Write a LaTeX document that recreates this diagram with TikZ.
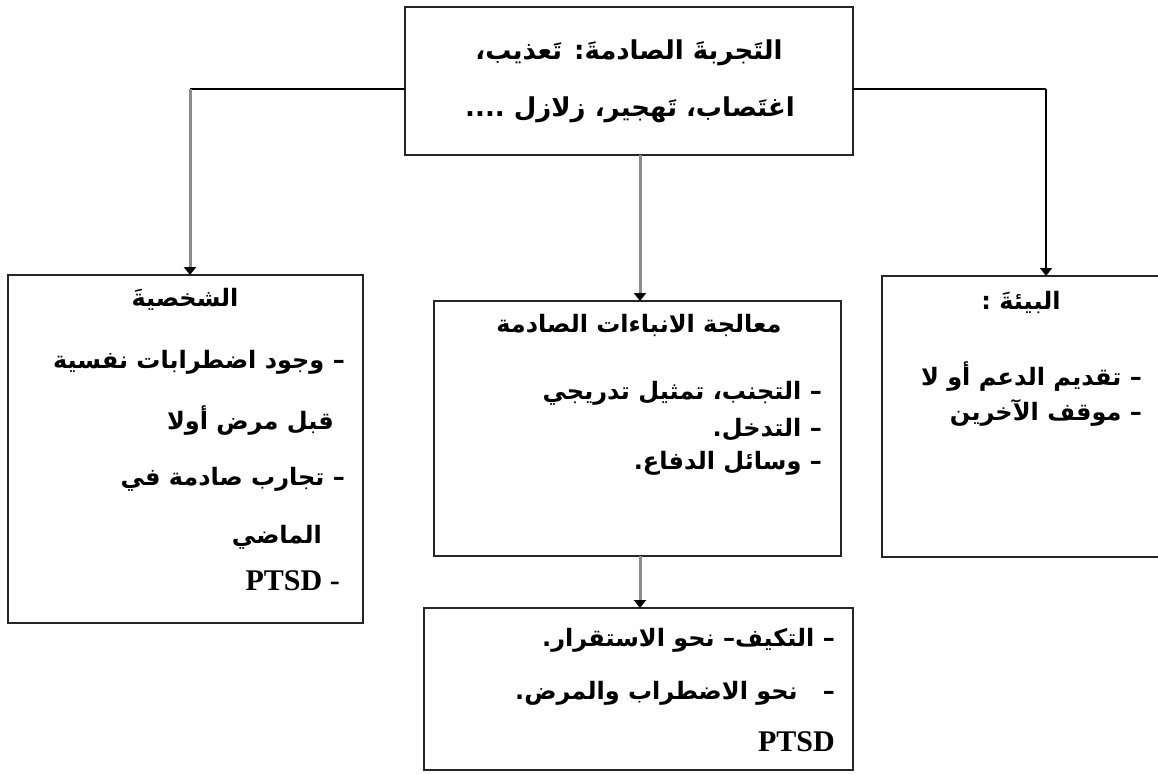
\documentclass[tikz,border=0pt]{standalone}
\usepackage{fontspec}
\setmainfont{Liberation Serif}
\newfontfamily\arabicfont[Script=Arabic]{DejaVu Sans}
\TeXXeTstate=1
\usetikzlibrary{arrows.meta,positioning}
\newcommand{\artxt}[1]{{\arabicfont\bfseries\beginR #1\endR}}

\begin{document}
\begin{tikzpicture}[x=1pt, y=-1pt, font=\fontsize{24}{28}\selectfont,
  box/.style={draw=black!85, line width=1.6pt, anchor=north west, inner sep=0pt, outer sep=0pt},
  wire/.style={line width=1.2pt},
  gline/.style={draw=black!45, line width=3pt, -{Triangle[length=8pt,width=12pt,color=black]}},
  bline/.style={line width=1.6pt, -{Triangle[length=8pt,width=12pt]}},
  txt/.style={inner sep=0pt, anchor=east},
  ttl/.style={inner sep=0pt},
  big/.style={font=\fontsize{26}{30}\selectfont},
  lat/.style={txt, font=\fontsize{30}{32}\selectfont\bfseries}]
\useasboundingbox (0,0) rectangle (1158,773);
% boxes
\node[box, minimum width=448pt, minimum height=148pt] (trauma) at (405,7) {};
\node[box, minimum width=355pt, minimum height=348pt] (persona) at (8,275) {};
\node[box, minimum width=407pt, minimum height=255pt] (process) at (434,301) {};
\node[box, minimum width=280pt, minimum height=281pt] (environ) at (882,276) {};
\node[box, minimum width=429pt, minimum height=162pt] (outcome) at (424,608) {};
% top box
\node[ttl, big] (tr1) at (629,53) {\artxt{التَجربةَ الصادمةَ: تَعذيب،}};
\node[ttl, big] (tr2) at (630,110) {\artxt{اغتَصاب، تَهجير، زلازل ....}};
% left box
\node[ttl] (pe0) at (185,299) {\artxt{الشخصيةَ}};
\node[txt] (pe1) at (345,362) {\artxt{– وجود اضطرابات نفسية}};
\node[txt] (pe2) at (334,421) {\artxt{قبل مرض أولا}};
\node[txt] (pe3) at (345,479) {\artxt{– تجارب صادمة في}};
\node[txt] (pe4) at (322,537) {\artxt{الماضي}};
\node[lat] (pe5) at (340,581) {PTSD -};
% middle box
\node[ttl] (pr0) at (639,325) {\artxt{معالجة الانباءات الصادمة}};
\node[txt] (pr1) at (822,393) {\artxt{– التجنب، تمثيل تدريجي}};
\node[txt] (pr2) at (822,430) {\artxt{– التدخل.}};
\node[txt] (pr3) at (822,463) {\artxt{– وسائل الدفاع.}};
% right box
\node[ttl] (en0) at (1021,302) {\artxt{البيئةَ :}};
\node[txt] (en1) at (1142,377) {\artxt{– تقديم الدعم أو لا}};
\node[txt] (en2) at (1142,413) {\artxt{– موقف الآخرين}};
% bottom box
\node[txt] (ou1) at (835,640) {\artxt{– التكيف– نحو الاستقرار.}};
\node[txt] (ou2) at (835,693) {\artxt{–~~ نحو الاضطراب والمرض.}};
\node[lat] (ou3) at (835,742) {PTSD};
% connectors
\coordinate (lbend) at (190,89);
\coordinate (rbend) at (1046,89);
\coordinate (midx) at (640,0);
\draw[wire] (trauma.west |- lbend) -- (lbend);
\draw[gline] (lbend) -- (lbend |- persona.north);
\draw[wire] (trauma.east |- rbend) -- (rbend);
\draw[bline] (rbend) -- (rbend |- environ.north);
\draw[gline] (trauma.south -| midx) -- (process.north -| midx);
\draw[gline] (process.south -| midx) -- (outcome.north -| midx);
\end{tikzpicture}
\end{document}
